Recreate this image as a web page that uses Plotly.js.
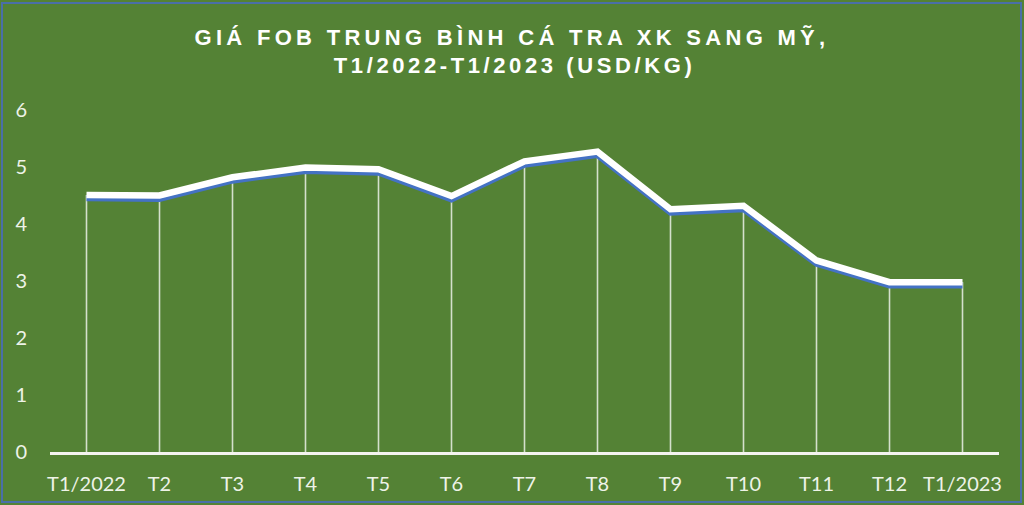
<!DOCTYPE html>
<html>
<head>
<meta charset="utf-8">
<script src="https://cdn.plot.ly/plotly-3.0.1.min.js"></script>
<style>
  html, body { margin: 0; padding: 0; background: #ffffff; }
  #wrap { position: relative; width: 1024px; height: 505px; }
  #chart { position: absolute; left: 0; top: 0; width: 1024px; height: 505px; }
  #frame { position: absolute; left: 1px; top: 2px; width: 1017px; height: 497px;
           border: 2px solid #4a6fa8; pointer-events: none; }
  #chart .gtitle { letter-spacing: 4.3px; }
  #chart .annotation-text { letter-spacing: 3.6px; }
</style>
</head>
<body>
<div id="wrap">
  <div id="chart"></div>
  <div id="frame"></div>
</div>
<script>
// ---- data ----
var categories = ["T1/2022","T2","T3","T4","T5","T6","T7","T8","T9","T10","T11","T12","T1/2023"];
var prices = [4.51, 4.50, 4.82, 4.99, 4.96, 4.49, 5.10, 5.27, 4.26, 4.32, 3.36, 2.98, 2.98];
var yTicks = [0, 1, 2, 3, 4, 5, 6];
var titleLine1 = "GIÁ FOB TRUNG BÌNH CÁ TRA XK SANG MỸ,";
var titleLine2 = "T1/2022-T1/2023 (USD/KG)";

var green = "#548235";
var tickFont = { family: "Lato, 'Open Sans', sans-serif", size: 20, color: "#eef3e8" };
var titleFont = { family: "'Liberation Sans', Arial, sans-serif", size: 22, color: "#ffffff" };

var zeros = prices.map(function () { return 0; });

var traces = [
  { // drop lines from each point to the axis
    type: "scatter", mode: "markers", x: categories, y: prices,
    xaxis: "x", yaxis: "y",
    marker: { size: 1, color: "rgba(0,0,0,0)" },
    error_y: { type: "data", symmetric: false, array: zeros, arrayminus: prices,
               color: "rgba(255,255,255,0.75)", thickness: 1.6, width: 0 },
    hoverinfo: "skip", showlegend: false
  },
  { // blue shadow under the line
    type: "scatter", mode: "lines", x: categories, y: prices,
    xaxis: "x", yaxis: "y2",
    line: { color: "#4472c4", width: 6 },
    hoverinfo: "skip", showlegend: false
  },
  { // main white line
    type: "scatter", mode: "lines", x: categories, y: prices,
    xaxis: "x", yaxis: "y3",
    line: { color: "#ffffff", width: 6.5 },
    showlegend: false
  }
];

var layout = {
  width: 1024, height: 505,
  paper_bgcolor: green, plot_bgcolor: green,
  margin: { l: 50, r: 25, t: 110, b: 53 },
  showlegend: false,
  title: {
    text: "<b>" + titleLine1 + "</b>",
    font: titleFont,
    x: 0.5, xref: "container", xanchor: "center",
    y: 1 - 37 / 505, yref: "container", yanchor: "middle"
  },
  annotations: [{
    text: "<b>" + titleLine2 + "</b>",
    xref: "paper", yref: "paper", x: (514 - 50) / 949, y: (452 - 65) / 342,
    xanchor: "center", yanchor: "middle", showarrow: false,
    font: titleFont
  }],
  xaxis: {
    type: "category", range: [-0.5, categories.length - 0.5],
    showgrid: false, zeroline: false, ticks: "",
    showline: true, linecolor: "#f4f4f0", linewidth: 3,
    tickfont: tickFont, ticklabelstandoff: 12, fixedrange: true
  },
  yaxis: {
    range: [0, 6], tickvals: yTicks, ticktext: yTicks.map(String),
    showgrid: false, zeroline: false, showline: false, ticks: "",
    tickfont: tickFont, ticklabelstandoff: 22, fixedrange: true
  },
  yaxis2: {
    range: [0.06, 6.06], overlaying: "y", visible: false, fixedrange: true
  },
  yaxis3: {
    range: [0, 6], overlaying: "y", visible: false, fixedrange: true
  }
};

Plotly.newPlot("chart", traces, layout, { displayModeBar: false, staticPlot: true });
</script>
</body>
</html>
